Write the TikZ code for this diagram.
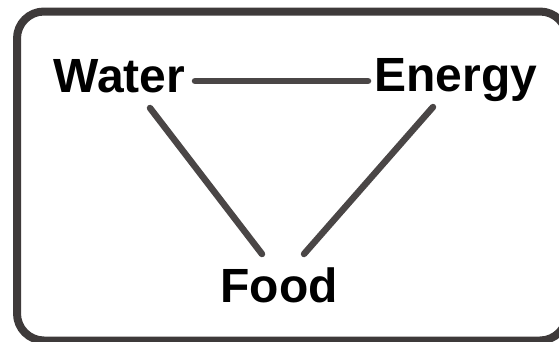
\documentclass[tikz,border=0pt]{standalone}
\usepackage{fontspec}
\setmainfont{Liberation Sans}
\usetikzlibrary{calc}
\definecolor{boxgray}{HTML}{3E3A3A}
\definecolor{linegray}{HTML}{4A4646}
\tikzset{
  label/.style={font=\fontsize{48}{48}\selectfont\bfseries, inner sep=0pt, anchor=base, text=black},
  link/.style={draw=linegray, line width=6.5pt, line cap=round}
}
\begin{document}
\begin{tikzpicture}[x=1pt,y=-1pt]
\useasboundingbox (0,0) rectangle (559,341);
\begin{scope}
\clip (0,0) rectangle (559,341);
\draw[boxgray, line width=8pt, rounded corners=27pt] (17,11.5) rectangle (567,340.5);
\end{scope}
\node[label] (water) at (119.5,92) {Water};
\node[label] (energy) at (456,91) {Energy};
\node[label] (food) at (279,302) {Food};
\draw[link] ($(water.base)+(75.5,-11)$) -- ($(energy.base)+(-88,-10)$);
\draw[link] ($(water.base)+(30.5,16)$) -- ($(food.base)+(-17,-48)$);
\draw[link] ($(energy.base)+(-23,16)$) -- ($(food.base)+(25,-48)$);
\end{tikzpicture}
\end{document}
